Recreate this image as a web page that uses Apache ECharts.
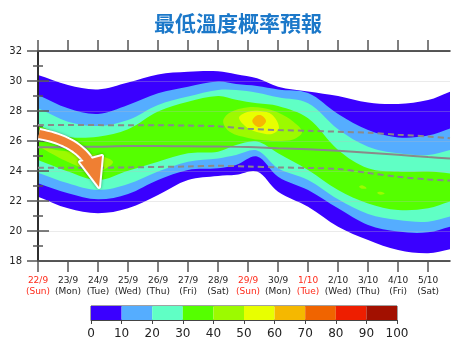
<!DOCTYPE html>
<html lang="zh-Hant">
<head>
<meta charset="UTF-8">
<title>最低溫度概率預報</title>
<style>
  html, body { margin: 0; padding: 0; background: #fff; }
  #chart { width: 476px; height: 354px; }
</style>
</head>
<body>
<div id="chart"></div>
<script src="https://cdn.jsdelivr.net/npm/echarts@6/dist/echarts.min.js"></script>
<script>
// x axis: day index, 0 = 22/9
const dates = ['22/9', '23/9', '24/9', '25/9', '26/9', '27/9', '28/9', '29/9', '30/9', '1/10', '2/10', '3/10', '4/10', '5/10'];
const weekdays = ['Sun', 'Mon', 'Tue', 'Wed', 'Thu', 'Fri', 'Sat', 'Sun', 'Mon', 'Tue', 'Wed', 'Thu', 'Fri', 'Sat'];
const redDays = [0, 7, 9];
const dayTicks = dates.map((d, i) => i);

// probability colour scale (0-100 %)
const probTicks = [0, 10, 20, 30, 40, 50, 60, 70, 80, 90, 100];
const probColors = ['#3a00ff', '#55adff', '#60ffc5', '#55ff00', '#9cfa00', '#e8ff00', '#f5b800', '#f06400', '#ee1e00', '#a21000'];

// outline of each probability band (temperature, deg C)
const bandX = [-0.6, 0, 1, 2, 3, 4, 5, 6, 6.6, 7.3, 8, 9, 10, 11, 12, 13, 13.73, 14.4];
const p0Upper = [30.6, 30.4, 29.73, 29.44, 29.9, 30.44, 30.62, 30.65, 30.45, 30.18, 29.62, 29.3, 29.0, 28.56, 28.47, 28.73, 29.29, 29.8];
const p0Lower = [22.7, 22.29, 21.51, 21.18, 21.51, 22.4, 23.4, 23.67, 23.75, 23.96, 22.62, 21.62, 20.29, 19.4, 18.73, 18.51, 18.78, 19.0];
const p10Upper = [29.5, 29.07, 28.18, 27.8, 28.4, 29.18, 29.62, 29.96, 29.8, 29.67, 29.44, 29.2, 27.8, 26.73, 26.24, 26.36, 26.84, 27.3];
const p10Lower = [23.6, 23.18, 22.51, 22.11, 22.47, 23.4, 24.07, 24.18, 24.4, 24.96, 23.62, 22.73, 21.51, 20.4, 19.96, 19.91, 20.29, 20.6];
const p20Upper = [28.6, 28.18, 27.29, 27.0, 27.4, 28.4, 28.96, 29.4, 29.4, 29.22, 28.91, 28.51, 26.78, 25.62, 25.18, 25.07, 25.4, 25.8];
const p20Lower = [24.3, 23.89, 23.18, 22.73, 23.13, 23.96, 24.62, 24.84, 25.07, 25.36, 24.18, 23.4, 22.11, 21.13, 20.73, 20.62, 20.96, 21.3];
const p30Upper = [27.5, 27.05, 26.29, 26.29, 26.78, 27.96, 28.62, 29.0, 28.75, 28.51, 28.33, 27.51, 25.4, 24.18, 23.96, 23.96, 23.84, 23.8];
const p30Lower = [25.1, 24.73, 23.96, 23.4, 24.02, 24.62, 25.18, 25.29, 25.73, 25.96, 25.18, 24.07, 22.73, 21.84, 21.4, 21.51, 21.96, 22.3];

// small islands of higher probability
const p40aX = [0.1, 0.6, 1.0, 1.5, 2.0, 2.5];
const p40aUpper = [25.6, 25.4, 25.3, 25.15, 25.05, 24.6];
const p40aLower = [25.6, 25.0, 24.6, 24.2, 23.95, 24.6];
const p40bX = [6.17, 6.4, 7.0, 7.5, 8.0, 8.5, 8.8];
const p40bUpper = [27.3, 27.9, 28.25, 28.2, 27.9, 27.3, 26.6];
const p40bLower = [27.3, 26.6, 26.2, 26.05, 26.0, 26.1, 26.6];
const p40cX = [10.7, 10.8, 10.95];
const p40cUpper = [22.95, 23.05, 22.85];
const p40cLower = [22.95, 22.82, 22.85];
const p40dX = [11.3, 11.42, 11.55];
const p40dUpper = [22.55, 22.62, 22.5];
const p40dLower = [22.55, 22.42, 22.5];
const p50X = [6.7, 7.0, 7.4, 7.8, 8.03];
const p50Upper = [27.55, 27.95, 28.0, 27.75, 26.9];
const p50Lower = [27.55, 26.85, 26.55, 26.47, 26.9];
const p60X = [7.14, 7.25, 7.37, 7.49, 7.6];
const p60Upper = [27.33, 27.65, 27.73, 27.65, 27.33];
const p60Lower = [27.33, 27.01, 26.93, 27.01, 27.33];

// reference lines
const lineX = [0, 1, 2, 3, 4, 5, 6, 7, 8, 9, 10, 11, 12, 13, 13.73];
const upperDash = [27.07, 27.07, 27.06, 27.05, 27.05, 27.03, 26.98, 26.82, 26.73, 26.68, 26.62, 26.55, 26.42, 26.3, 26.18];
const median = [25.58, 25.6, 25.62, 25.66, 25.66, 25.65, 25.63, 25.6, 25.52, 25.45, 25.35, 25.22, 25.08, 24.93, 24.84];
const lowerDash = [24.22, 24.22, 24.22, 24.24, 24.27, 24.3, 24.35, 24.3, 24.24, 24.2, 24.14, 23.87, 23.62, 23.44, 23.36];

const shapes = [
  { x: bandX, up: p0Upper, lo: p0Lower, c: probColors[0] },
  { x: bandX, up: p10Upper, lo: p10Lower, c: probColors[1] },
  { x: bandX, up: p20Upper, lo: p20Lower, c: probColors[2] },
  { x: bandX, up: p30Upper, lo: p30Lower, c: probColors[3] },
  { x: p40aX, up: p40aUpper, lo: p40aLower, c: probColors[4] },
  { x: p40bX, up: p40bUpper, lo: p40bLower, c: probColors[4] },
  { x: p40cX, up: p40cUpper, lo: p40cLower, c: probColors[4] },
  { x: p40dX, up: p40dUpper, lo: p40dLower, c: probColors[4] },
  { x: p50X, up: p50Upper, lo: p50Lower, c: probColors[5] },
  { x: p60X, up: p60Upper, lo: p60Lower, c: probColors[6] }
];

const pairs = (xs, ys) => xs.map((x, i) => [x, ys[i]]);
const font = 'DejaVu Sans';

let myCharts = echarts.init(document.getElementById('chart'));

function renderShape(params, api) {
  const s = shapes[params.dataIndex];
  const n = s.x.length;
  const pts = [];
  for (let i = 0; i < n; i++) pts.push(api.coord([s.x[i], s.up[i]]));
  for (let i = n - 1; i >= 0; i--) {
    // ends of closed islands are a single point
    if ((i === 0 || i === n - 1) && s.up[i] === s.lo[i]) continue;
    pts.push(api.coord([s.x[i], s.lo[i]]));
  }
  return {
    type: 'polygon',
    shape: { points: pts, smooth: 0.35 },
    style: { fill: s.c }
  };
}

function renderColorbar(params, api) {
  const i = params.dataIndex;
  const p1 = api.coord([probTicks[i], 1]);
  const p2 = api.coord([probTicks[i + 1], 0]);
  return {
    type: 'rect',
    shape: { x: p1[0], y: p1[1], width: p2[0] - p1[0], height: p2[1] - p1[1] },
    style: { fill: probColors[i] }
  };
}

const dashStyle = { color: '#8a8a8a', width: 2, type: [6, 4] };

// arrow decoration (pixels): quadratic curve for the shaft, triangle head
const shaftPts = [];
for (let t = 0; t <= 1.0001; t += 0.05) {
  const a = (1 - t) * (1 - t), b = 2 * t * (1 - t), c = t * t;
  shaftPts.push([a * 39 + b * 78 + c * 91, a * 134 + b * 141 + c * 165]);
}
const arrowHead = [[80, 162], [102, 156], [99, 187]];

myCharts.setOption({
  animation: false,
  backgroundColor: '#fff',
  title: {
    text: '最低溫度概率預報',
    left: 'center',
    top: 8,
    textStyle: { fontSize: 21, fontWeight: 'bold', color: '#1b78c9', fontFamily: 'Noto Sans CJK TC' }
  },
  grid: [
    { left: 38, right: 26, top: 51, height: 210 },
    { left: 91, width: 306, top: 306, height: 14, show: true, borderColor: '#444', borderWidth: 1, backgroundColor: 'transparent' }
  ],
  xAxis: [
    {
      type: 'value', gridIndex: 0, min: 0, max: 13.73, position: 'bottom', z: 3,
      axisLine: { lineStyle: { color: '#222', width: 1.5 } },
      axisTick: { customValues: dayTicks, length: 11, lineStyle: { color: '#555', width: 1.5 } },
      axisLabel: {
        customValues: dayTicks, margin: 14, fontFamily: font, fontSize: 9, color: '#222',
        formatter: (v) => {
          const k = redDays.includes(v) ? 'r' : 'b';
          return '{' + k + '|' + dates[v] + '}\n{' + k + '|(' + weekdays[v] + ')}';
        },
        rich: {
          b: { color: '#222', fontFamily: font, fontSize: 9, lineHeight: 11 },
          r: { color: '#ff2a1a', fontFamily: font, fontSize: 9, lineHeight: 11 }
        }
      },
      splitLine: { show: false }
    },
    {
      type: 'value', gridIndex: 0, min: 0, max: 13.73, position: 'top', z: 3,
      axisLine: { lineStyle: { color: '#222', width: 1.5 } },
      axisTick: { customValues: dayTicks, length: 11, lineStyle: { color: '#555', width: 1.5 } },
      axisLabel: { show: false },
      splitLine: { show: false }
    },
    {
      type: 'value', gridIndex: 1, min: 0, max: 100, interval: 10,
      axisLine: { lineStyle: { color: '#444', width: 1 } },
      axisTick: { length: 4, lineStyle: { color: '#444' } },
      axisLabel: { margin: 8, fontFamily: font, fontSize: 12, color: '#222' },
      splitLine: { show: false }
    }
  ],
  yAxis: [
    {
      type: 'value', gridIndex: 0, min: 18, max: 32, interval: 2, z: 3,
      axisLine: { show: true, lineStyle: { color: '#222', width: 1.5 } },
      axisTick: { show: true, length: 11, lineStyle: { color: '#555', width: 1.5 } },
      minorTick: { show: true, splitNumber: 2, length: 5, lineStyle: { color: '#555', width: 1.5 } },
      axisLabel: { margin: 16, fontFamily: font, fontSize: 10, color: '#222' },
      splitLine: { show: true, lineStyle: { color: 'rgba(190,190,190,0.3)', width: 1 } }
    },
    {
      type: 'value', gridIndex: 0, min: 18, max: 32, interval: 2, position: 'right', z: 3,
      axisLine: { show: true, lineStyle: { color: '#222', width: 1.5 } },
      axisTick: { show: true, length: 11, lineStyle: { color: '#555', width: 1.5 } },
      minorTick: { show: true, splitNumber: 2, length: 5, lineStyle: { color: '#555', width: 1.5 } },
      axisLabel: { show: false },
      splitLine: { show: false }
    },
    { type: 'value', gridIndex: 1, min: 0, max: 1, show: false }
  ],
  series: [
    {
      type: 'custom', xAxisIndex: 0, yAxisIndex: 0, clip: true,
      renderItem: renderShape,
      data: shapes.map((s, i) => i)
    },
    {
      type: 'line', xAxisIndex: 0, yAxisIndex: 0, data: pairs(lineX, upperDash),
      smooth: 0.3, showSymbol: false, lineStyle: dashStyle, z: 4
    },
    {
      type: 'line', xAxisIndex: 0, yAxisIndex: 0, data: pairs(lineX, median),
      smooth: 0.3, showSymbol: false, lineStyle: { color: '#8a8a8a', width: 2 }, z: 4
    },
    {
      type: 'line', xAxisIndex: 0, yAxisIndex: 0, data: pairs(lineX, lowerDash),
      smooth: 0.3, showSymbol: false, lineStyle: dashStyle, z: 4
    },
    {
      type: 'custom', xAxisIndex: 2, yAxisIndex: 2,
      renderItem: renderColorbar,
      data: probColors.map((c, i) => i)
    }
  ],
  // the orange arrow drawn over the plot
  graphic: [
    { type: 'polyline', z: 100, shape: { points: shaftPts },
      style: { stroke: '#fff', lineWidth: 12, fill: 'transparent', lineCap: 'butt', shadowBlur: 3, shadowColor: 'rgba(0,0,0,0.35)' } },
    { type: 'polygon', z: 100, shape: { points: arrowHead },
      style: { fill: '#fff', stroke: '#fff', lineWidth: 4, lineJoin: 'round', shadowBlur: 3, shadowColor: 'rgba(0,0,0,0.35)' } },
    { type: 'polyline', z: 101, shape: { points: shaftPts },
      style: { stroke: '#ef7f33', lineWidth: 8, fill: 'transparent', lineCap: 'butt' } },
    { type: 'polygon', z: 101, shape: { points: arrowHead },
      style: { fill: '#ef7f33' } }
  ]
});
window.addEventListener('resize', () => {
  myCharts.resize();
});
</script>
</body>
</html>
